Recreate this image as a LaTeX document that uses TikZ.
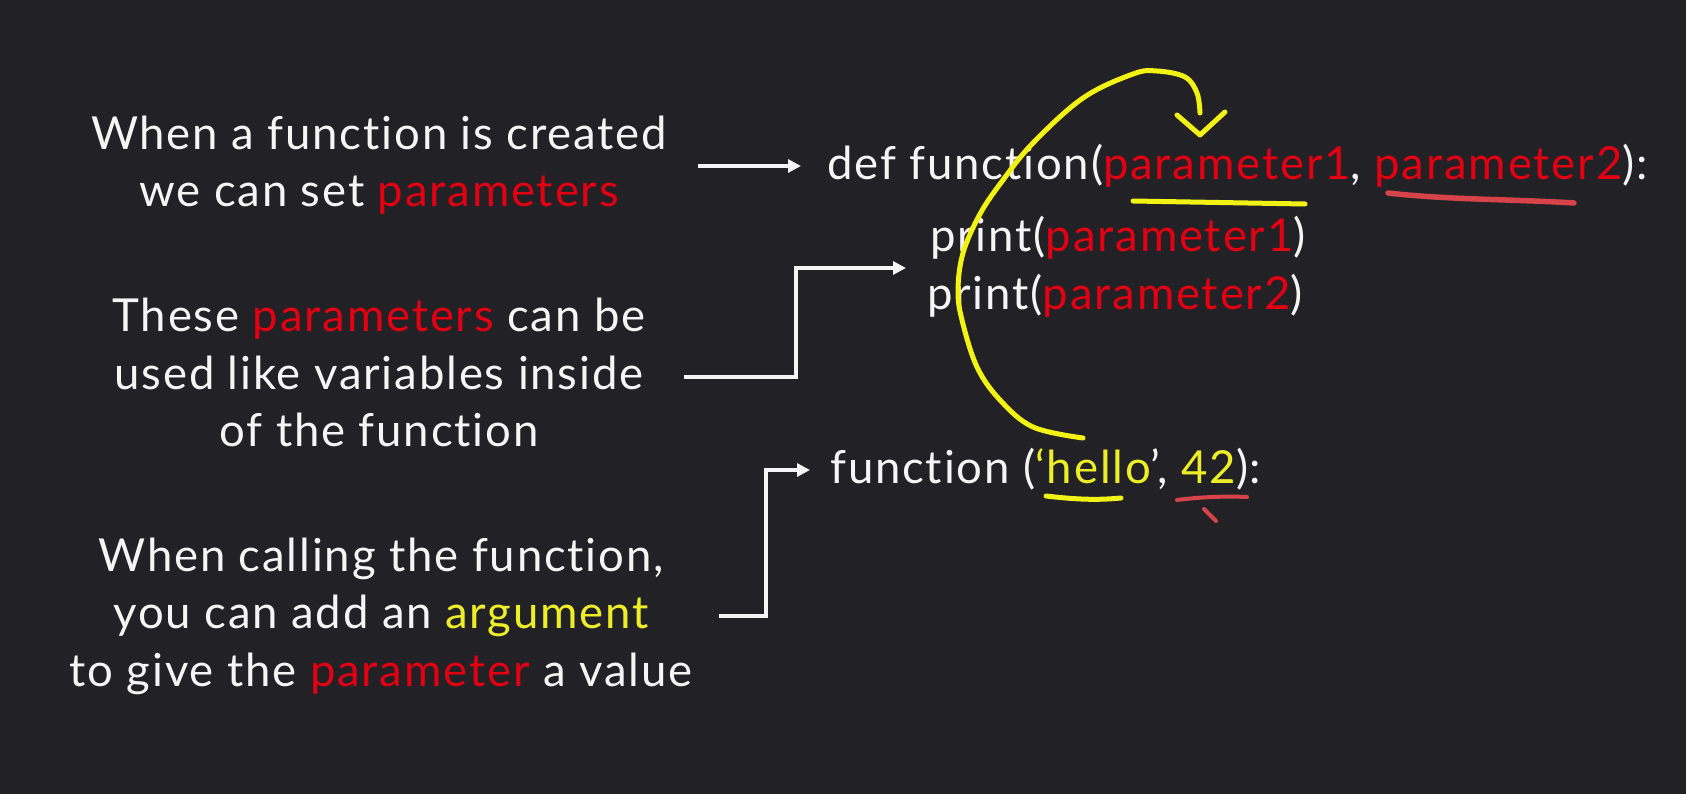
\documentclass[tikz,border=0pt]{standalone}
\usepackage{fontspec}
\setmainfont{Lato}[Ligatures={NoCommon,NoRare}, LetterSpace=4]
\usetikzlibrary{arrows.meta}

\definecolor{bg}{RGB}{34,34,38}
\definecolor{fg}{RGB}{245,245,245}
\definecolor{pred}{RGB}{226,0,18}
\definecolor{ayel}{RGB}{238,238,40}
\definecolor{mark}{RGB}{242,242,20}
\definecolor{redmark}{RGB}{214,68,74}

\newcommand{\prm}[1]{\textcolor{pred}{#1}}
\newcommand{\argtxt}[1]{\textcolor{ayel}{#1}}

\tikzset{
  txt/.style={text=fg, font=\fontsize{45.5}{52}\selectfont, inner sep=0pt},
  para/.style={txt, anchor=base},
  code/.style={txt, anchor=base west},
  link/.style={draw=fg, line width=3.2pt, -{Triangle[length=13pt,width=13pt]}},
  hilite/.style={draw=mark, line width=5pt, line cap=round, line join=round},
  redline/.style={draw=redmark, line width=5.5pt, line cap=round},
}

\begin{document}
\begin{tikzpicture}[x=1pt, y=-1pt]
\useasboundingbox[fill=bg] (0,0) rectangle (1686,794);

% explanations on the left
\node[para] (c1) at (379,150) {When a function is created};
\node[para] (c2) at (379,207) {we can set \prm{parameters}};

\node[para] (u1) at (379,331) {These \prm{parameters} can be};
\node[para] (u2) at (379,389) {used like variables inside};
\node[para] (u3) at (379,446) {of the function};

\node[para] (v1) at (381,571) {When calling the function,};
\node[para] (v2) at (381,628) {you can add an \argtxt{argument}};
\node[para] (v3) at (381,686) {to give the \prm{parameter} a value};

% the code
\node[code] (def) at (827,180) {def function(\prm{parameter1}, \prm{parameter2}):};
\node[code] (pr1) at (930,252) {print(\prm{parameter1})};
\node[code] (pr2) at (927,309) {print(\prm{parameter2})};
\node[code] (call) at (830,483) {function (\argtxt{‘hello}’, \argtxt{42}):};

% connector end points
\coordinate (a1s) at (698,166);
\coordinate (a1e) at (801,166);
\coordinate (a2s) at (684,377);
\coordinate (a2e) at (906,268);
\coordinate (a3s) at (719,616);
\coordinate (a3e) at (810,470);

\draw[link] (a1s) -- (a1e);
\draw[link] (a2s) -- (796,377) -- (796,268) -- (a2e);
\draw[link] (a3s) -- (766,616) -- (766,470) -- (a3e);

% hand-drawn marks
\draw[hilite] plot[smooth, tension=0.6] coordinates {
  (1083,438) (1033,427) (1000,400) (977,367) (962,320) (958,290)
  (963,253) (980,214) (1003,180) (1033,143) (1083,98) (1133,74)
  (1157,71) (1185,77) (1197,93) (1200,113)};
\draw[hilite] (1177,115) -- (1200,135) -- (1225,112);
\draw[hilite] (1133,201) -- (1305,204);
\draw[hilite] (1046,496) .. controls (1080,500) and (1100,500) .. (1121,498);

\draw[redline] (1388,193) .. controls (1450,200) and (1510,199) .. (1574,203);
\draw[redline, line width=4pt] (1177,500) .. controls (1200,497) and (1225,496) .. (1247,497);
\draw[redline, line width=4pt] (1204,509) -- (1216,521);
\end{tikzpicture}
\end{document}
